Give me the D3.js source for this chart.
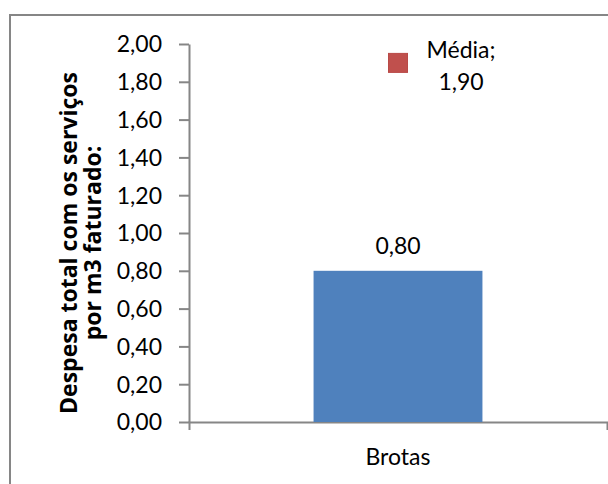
<!DOCTYPE html>
<html>
	<head>
		<style>
			body, html { margin: 0; padding: 0; background: #fff; }
			svg text { font-family: Lato, "Open Sans", sans-serif; fill: #000; }
		</style>
	</head>
	<body>
		<svg id="svg" width="608" height="484"></svg>
		<script src="https://d3js.org/d3.v7.min.js"></script>
		<script>
		// Chart data
		const categories = ['Brotas']
		const values = [0.80]
		const mediaLabel = 'Média'
		const mediaValue = [1.90]
		const yTicks = [0, 0.2, 0.4, 0.6, 0.8, 1.0, 1.2, 1.4, 1.6, 1.8, 2.0]
		const yTitle = ['Despesa total com os serviços', 'por m3 faturado:']

		// Brazilian number format: comma for decimals
		const br = d3.formatLocale({ decimal: ',', thousands: '.', grouping: [3], currency: ['R$', ''] })
		const fmt = br.format('.2f')

		const fontSize = 23

		const svg = d3.select('#svg')

		// outer chart border (runs off the right and bottom edge)
		svg.append('rect')
			.attr('x', 10).attr('y', 15)
			.attr('width', 640).attr('height', 520)
			.attr('fill', '#fff')
			.attr('stroke', '#868686')
			.attr('stroke-width', 2)

		// scales
		const x = d3.scaleBand()
			.domain(categories)
			.range([189, 607])

		const y = d3.scaleLinear()
			.domain([0, 2])
			.range([422, 44])

		// y axis
		const leftAxis = d3.axisLeft(y)
			.tickValues(yTicks)
			.tickFormat(fmt)
			.tickSizeInner(10)
			.tickSizeOuter(0)
			.tickPadding(17)

		const gy = svg.append('g')
			.attr('transform', 'translate(189,0)')
			.call(leftAxis)
		gy.selectAll('text').attr('font-size', fontSize).attr('dy', '0.34em')

		// x axis, end ticks at band edges
		const bottomAxis = d3.axisBottom(x)
			.tickSizeInner(0)
			.tickSizeOuter(8)
			.tickPadding(27)

		const gx = svg.append('g')
			.attr('transform', 'translate(0,422)')
			.call(bottomAxis)
		gx.selectAll('text').attr('font-size', fontSize)

		svg.selectAll('.domain, .tick line')
			.attr('stroke', '#868686')
			.attr('stroke-width', 2)
		svg.selectAll('.tick text').attr('fill', '#000')
		svg.selectAll('.tick text').style('font-family', 'Lato, "Open Sans", sans-serif')

		// bars
		const barW = x.bandwidth() * 0.404
		svg.selectAll('.bar')
			.data(values)
			.join('rect')
			.attr('class', 'bar')
			.attr('x', (d, i) => x(categories[i]) + x.bandwidth() / 2 - barW / 2)
			.attr('y', d => y(d))
			.attr('width', barW)
			.attr('height', d => y(0) - y(d))
			.attr('fill', '#4F81BD')

		svg.selectAll('.barlabel')
			.data(values)
			.join('text')
			.attr('class', 'barlabel')
			.attr('x', (d, i) => x(categories[i]) + x.bandwidth() / 2)
			.attr('y', d => y(d) - 17)
			.attr('text-anchor', 'middle')
			.attr('font-size', fontSize)
			.text(d => fmt(d))

		// average marker
		const mSize = 19
		const cx = x(categories[0]) + x.bandwidth() / 2
		svg.selectAll('.media')
			.data(mediaValue)
			.join('rect')
			.attr('class', 'media')
			.attr('x', cx - mSize / 2)
			.attr('y', d => y(d) - mSize / 2)
			.attr('width', mSize)
			.attr('height', mSize)
			.attr('fill', '#C0504D')
			.attr('stroke', '#b94a47')
			.attr('stroke-width', 1)

		const ml = svg.append('text')
			.attr('x', cx + 63)
			.attr('y', y(mediaValue[0]) - 5)
			.attr('text-anchor', 'middle')
			.attr('font-size', fontSize)
		ml.append('tspan').attr('x', cx + 63).text(mediaLabel + ';')
		ml.append('tspan').attr('x', cx + 63).attr('dy', 32).text(fmt(mediaValue[0]))

		// y axis title, two bold lines
		const midY = (y(0) + y(2)) / 2 + 10
		const title = svg.append('text')
			.attr('transform', `translate(77,${midY}) rotate(-90)`)
			.attr('text-anchor', 'middle')
			.style('font-family', '"Open Sans", Lato, sans-serif')
			.attr('font-size', 23)
			.attr('font-weight', 'bold')
		title.selectAll('tspan')
			.data(yTitle)
			.join('tspan')
			.attr('x', 0)
			.attr('y', (d, i) => i * 24)
			.text(d => d)
		</script>
	</body>
</html>
